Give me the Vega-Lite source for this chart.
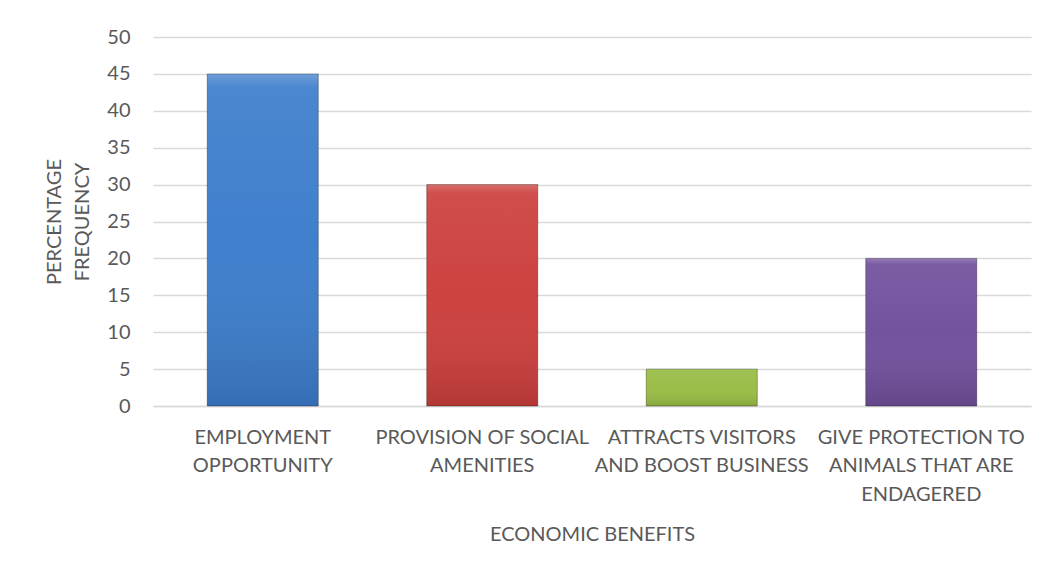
{
  "$schema": "https://vega.github.io/schema/vega-lite/v6.json",
  "autosize": "none",
  "width": 878,
  "height": 369,
  "padding": {"left": 153, "top": 37, "right": 20, "bottom": 166},
  "background": "white",
  "data": {
    "values": [
      {"benefit": "EMPLOYMENT OPPORTUNITY", "percent": 45},
      {"benefit": "PROVISION OF SOCIAL AMENITIES", "percent": 30},
      {"benefit": "ATTRACTS VISITORS AND BOOST BUSINESS", "percent": 5},
      {"benefit": "GIVE PROTECTION TO ANIMALS THAT ARE ENDAGERED", "percent": 20}
    ]
  },
  "encoding": {
    "x": {
      "field": "benefit",
      "type": "nominal",
      "sort": null,
      "scale": {"paddingInner": 0.494, "paddingOuter": 0.247},
      "axis": {
        "title": "ECONOMIC BENEFITS",
        "labelAngle": 0,
        "labelBaseline": "top",
        "labelPadding": 21,
        "labelLineHeight": 28.5,
        "labelLimit": 300,
        "titlePadding": 20,
        "domain": true,
        "domainColor": "#D9D9D9",
        "domainWidth": 1.5,
        "ticks": false,
        "labelExpr": "datum.value == 'EMPLOYMENT OPPORTUNITY' ? ['EMPLOYMENT', 'OPPORTUNITY'] : datum.value == 'PROVISION OF SOCIAL AMENITIES' ? ['PROVISION OF SOCIAL', 'AMENITIES'] : datum.value == 'ATTRACTS VISITORS AND BOOST BUSINESS' ? ['ATTRACTS VISITORS', 'AND BOOST BUSINESS'] : ['GIVE PROTECTION TO', 'ANIMALS THAT ARE', 'ENDAGERED']"
      }
    },
    "y": {
      "field": "percent",
      "type": "quantitative",
      "scale": {"domain": [0, 50]},
      "axis": {
        "title": ["PERCENTAGE", "FREQUENCY"],
        "values": [0, 5, 10, 15, 20, 25, 30, 35, 40, 45, 50],
        "domain": false,
        "ticks": false,
        "labelPadding": 23,
        "titlePadding": 14,
        "titleLineHeight": 28,
        "gridColor": "#D9D9D9",
        "gridWidth": 1.5
      }
    }
  },
  "layer": [
    {
      "mark": {"type": "bar"},
      "encoding": {
        "color": {
          "field": "benefit",
          "type": "nominal",
          "sort": null,
          "legend": null,
          "scale": {
            "domain": ["EMPLOYMENT OPPORTUNITY", "PROVISION OF SOCIAL AMENITIES", "ATTRACTS VISITORS AND BOOST BUSINESS", "GIVE PROTECTION TO ANIMALS THAT ARE ENDAGERED"],
            "range": ["#3C7DCC", "#CC3F3C", "#98BC44", "#714F9C"]
          }
        }
      }
    },
    {
      "mark": {
        "type": "bar",
        "stroke": "rgba(0,0,0,0.3)",
        "strokeWidth": 1,
        "fill": {
          "gradient": "linear",
          "x1": 0, "y1": 0, "x2": 0, "y2": 1,
          "stops": [
            {"offset": 0, "color": "rgba(255,255,255,0.25)"},
            {"offset": 0.04, "color": "rgba(255,255,255,0.08)"},
            {"offset": 0.5, "color": "rgba(255,255,255,0.02)"},
            {"offset": 1, "color": "rgba(0,0,0,0.12)"}
          ]
        }
      },
      "encoding": {}
    }
  ],
  "config": {
    "view": {"stroke": null},
    "font": "Lato",
    "axis": {
      "labelFont": "Lato",
      "titleFont": "Lato",
      "labelFontSize": 20,
      "titleFontSize": 20,
      "labelColor": "#595959",
      "titleColor": "#595959",
      "titleFontWeight": "normal"
    }
  }
}
